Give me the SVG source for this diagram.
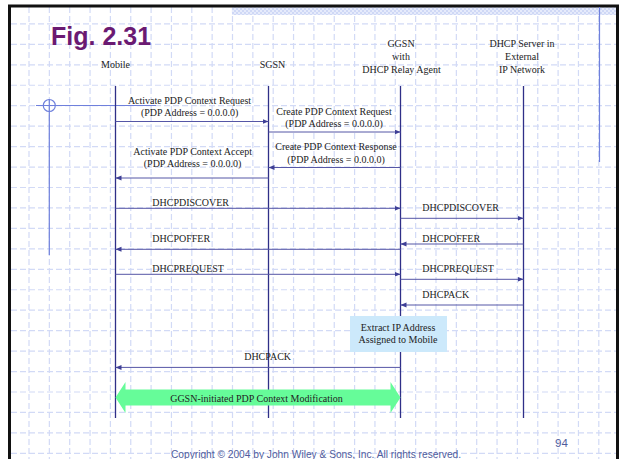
<svg xmlns="http://www.w3.org/2000/svg" width="619" height="459" viewBox="0 0 619 459">
  <style>
    .grid { fill: none; stroke: #d2daf6; stroke-width: 1.2; stroke-dasharray: 6 3; }
    .frame { stroke: #111; stroke-width: 3; fill: none; }
    .guide { stroke: #6f80dc; stroke-width: 1.2; fill: none; }
    .life { stroke: #2f2f88; stroke-width: 1.3; fill: none; }
    .msg { stroke: #5556a6; stroke-width: 1; fill: none; marker-end: url(#arr); }
    .hdr { font-family: "Liberation Serif", "Times New Roman", serif; font-size: 10px; fill: #222; text-anchor: middle; }
    .lbl { font-family: "Liberation Serif", "Times New Roman", serif; font-size: 10px; fill: #222; }
    .mid { text-anchor: middle; }
    .title { font-family: "Liberation Sans", Arial, sans-serif; font-size: 25px; font-weight: bold; fill: #6b1a72; }
    .foot { font-family: "Liberation Sans", Arial, sans-serif; fill: #4f5c9c; }
  </style>
  <defs>
    <marker id="arr" markerUnits="userSpaceOnUse" markerWidth="7" markerHeight="6" refX="6" refY="2.5" orient="auto">
      <path d="M0,0 L6,2.5 L0,5 z" fill="#3e3f96"/>
    </marker>
    <pattern id="band" patternUnits="userSpaceOnUse" width="4" height="4">
      <rect width="4" height="4" fill="#e6ebfb"/>
      <rect width="2" height="2" fill="#cfd8f6"/>
      <rect x="2" y="2" width="2" height="2" fill="#cfd8f6"/>
    </pattern>
  </defs>

  <!-- slide background and grid -->
  <rect width="619" height="459" fill="#fff"/>
  <path class="grid" d="M29,7V459 M49.35,7V459 M69.7,7V459 M90.05,7V459 M110.4,7V459 M130.75,7V459 M151.1,7V459 M171.45,7V459 M191.8,7V459 M212.15,7V459 M232.5,7V459 M252.85,7V459 M273.2,7V459 M293.55,7V459 M313.9,7V459 M334.25,7V459 M354.6,7V459 M374.95,7V459 M395.3,7V459 M415.65,7V459 M436,7V459 M456.35,7V459 M476.7,7V459 M497.05,7V459 M517.4,7V459 M537.75,7V459 M558.1,7V459 M578.45,7V459 M598.8,7V459"/>
  <path class="grid" d="M11,23.9H616 M11,44.35H616 M11,64.8H616 M11,85.25H616 M11,105.7H616 M11,126.15H616 M11,146.6H616 M11,167.05H616 M11,187.5H616 M11,207.95H616 M11,228.4H616 M11,248.85H616 M11,269.3H616 M11,289.75H616 M11,310.2H616 M11,330.65H616 M11,351.1H616 M11,371.55H616 M11,392H616 M11,412.45H616 M11,432.9H616 M11,453.35H616"/>
  <rect x="232" y="7" width="384" height="8" fill="url(#band)"/>

  <!-- frame and guide marks -->
  <path class="frame" d="M9.5,459V6H617.5V459"/>
  <path class="guide" d="M599.5,7V162 M36,105.5H156 M49.3,99V255"/>
  <circle class="guide" cx="49.3" cy="105.5" r="6"/>

  <text class="title" x="51" y="45">Fig. 2.31</text>

  <!-- participants -->
  <g id="mobile">
    <text class="hdr" x="115.5" y="68.3">Mobile</text>
    <line class="life" x1="115.5" y1="86" x2="115.5" y2="418"/>
  </g>
  <g id="sgsn">
    <text class="hdr" x="272.5" y="68.3">SGSN</text>
    <line class="life" x1="268.5" y1="86" x2="268.5" y2="418"/>
  </g>
  <g id="ggsn">
    <text class="hdr" x="401" y="47.3">GGSN</text>
    <text class="hdr" x="401" y="60">with</text>
    <text class="hdr" x="401.5" y="72.5">DHCP Relay Agent</text>
    <line class="life" x1="400.5" y1="86" x2="400.5" y2="418"/>
  </g>
  <g id="dhcp-server">
    <text class="hdr" x="522" y="47.3">DHCP Server in</text>
    <text class="hdr" x="522" y="60">External</text>
    <text class="hdr" x="522" y="72.5">IP Network</text>
    <line class="life" x1="523.5" y1="86" x2="523.5" y2="418"/>
  </g>

  <!-- messages -->
  <g id="messages">
    <line class="msg" x1="115.5" y1="121.5" x2="268.5" y2="121.5"/>
    <text class="lbl mid" x="189.5" y="104">Activate PDP Context Request</text>
    <text class="lbl mid" x="189.7" y="116">(PDP Address = 0.0.0.0)</text>

    <line class="msg" x1="268.5" y1="132" x2="400.5" y2="132"/>
    <text class="lbl mid" x="334" y="114.5">Create PDP Context Request</text>
    <text class="lbl mid" x="334" y="127">(PDP Address = 0.0.0.0)</text>

    <line class="msg" x1="400.5" y1="167.5" x2="268.5" y2="167.5"/>
    <text class="lbl mid" x="336" y="150">Create PDP Context Response</text>
    <text class="lbl mid" x="336" y="162.5">(PDP Address = 0.0.0.0)</text>

    <line class="msg" x1="268.5" y1="178" x2="115.5" y2="178"/>
    <text class="lbl mid" x="192.7" y="155">Activate PDP Context Accept</text>
    <text class="lbl mid" x="192.5" y="167">(PDP Address = 0.0.0.0)</text>

    <line class="msg" x1="115.5" y1="208.3" x2="400.5" y2="208.3"/>
    <text class="lbl" x="152.3" y="206">DHCPDISCOVER</text>

    <line class="msg" x1="400.5" y1="218.3" x2="523.5" y2="218.3"/>
    <text class="lbl" x="422.3" y="210.7">DHCPDISCOVER</text>

    <line class="msg" x1="523.5" y1="244" x2="400.5" y2="244"/>
    <text class="lbl" x="422.3" y="242">DHCPOFFER</text>

    <line class="msg" x1="400.5" y1="249.3" x2="115.5" y2="249.3"/>
    <text class="lbl" x="152.3" y="242">DHCPOFFER</text>

    <line class="msg" x1="115.5" y1="274.3" x2="400.5" y2="274.3"/>
    <text class="lbl" x="152.3" y="272">DHCPREQUEST</text>

    <line class="msg" x1="400.5" y1="279.3" x2="523.5" y2="279.3"/>
    <text class="lbl" x="422.3" y="272">DHCPREQUEST</text>

    <line class="msg" x1="523.5" y1="305" x2="400.5" y2="305"/>
    <text class="lbl" x="422.3" y="297.7">DHCPACK</text>

    <line class="msg" x1="400.5" y1="367.4" x2="115.5" y2="367.4"/>
    <text class="lbl mid" x="267.6" y="360">DHCPACK</text>
  </g>

  <!-- GGSN local action -->
  <g id="extract-address">
    <rect x="350" y="316" width="97" height="36" fill="#cce9fb"/>
    <text class="lbl mid" x="398" y="331">Extract IP Address</text>
    <text class="lbl mid" x="398" y="343">Assigned to Mobile</text>
  </g>

  <!-- PDP context modification span -->
  <g id="pdp-modification">
    <polygon points="115.5,397.5 125.5,382 125.5,389.5 390.5,389.5 390.5,382 400.5,397.5 390.5,413 390.5,405.5 125.5,405.5 125.5,413" fill="#66fc99"/>
    <text class="lbl mid" x="256.5" y="402" fill="#2d3b56">GGSN-initiated PDP Context Modification</text>
  </g>

  <!-- footer -->
  <text class="foot" x="555" y="447" font-size="11.5">94</text>
  <text class="foot" x="171" y="458" font-size="10.2">Copyright © 2004 by John Wiley &amp; Sons, Inc. All rights reserved.</text>
</svg>
